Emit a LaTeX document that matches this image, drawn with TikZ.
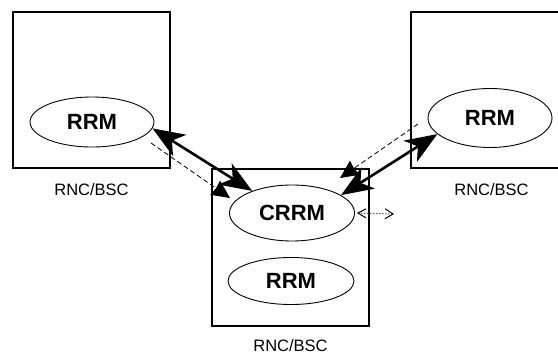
\documentclass[tikz,border=0pt]{standalone}
\usepackage{fontspec}
\setmainfont{Liberation Sans}
\usetikzlibrary{positioning,shapes.geometric,arrows.meta}

\tikzset{
  unit/.style={draw, line width=1.4pt, minimum width=157pt, minimum height=156pt, inner sep=0pt},
  oval/.style={draw, ellipse, line width=0.9pt, inner sep=0pt, font=\fontsize{22}{26}\selectfont\bfseries},
  place/.style={inner sep=0pt, font=\fontsize{16.5}{20}\selectfont},
  link/.style={line width=2.6pt, {Stealth[length=32pt,width=25pt,inset=9pt]}-{Stealth[length=32pt,width=25pt,inset=9pt]}},
  signal/.style={dash pattern=on 5pt off 3pt, line width=0.8pt, -{Stealth[length=18pt,width=17pt,inset=1pt]}},
  probe/.style={dotted, line width=1pt, shorten <=2pt, {Straight Barb[length=8pt,width=9pt]}-{Straight Barb[length=8pt,width=10pt]}}
}

\begin{document}
\begin{tikzpicture}[x=1pt, y=-1pt]
        \useasboundingbox (0,0) rectangle (558,354);
        \clip (0,0) rectangle (558,354);

        \node[unit] (lbox) at (91.5,90) {};
        \node[unit] (rbox) at (489.5,90) {};
        \node[unit, minimum height=157pt] (cbox) at (290.5,247.5) {};

        \node[place, below=15pt of lbox] (llabel) {RNC/BSC};
        \node[place, below=15pt of rbox.south -| rbox.center, xshift=2pt] (rlabel) {RNC/BSC};
        \node[place, below=13pt of cbox] (clabel) {RNC/BSC};

        \node[oval, minimum width=124pt, minimum height=50pt] (lrrm) at (92,122) {RRM};
        \node[oval, minimum width=124pt, minimum height=59pt] (rrrm) at (490,118) {RRM};
        \node[oval, minimum width=125pt, minimum height=56pt] (crrm) at (292,213) {CRRM};
        \node[oval, minimum width=126pt, minimum height=47pt] (crm) at (291,281) {RRM};

        \coordinate (lfrom) at (151,143);
        \coordinate (lto) at (230,198);
        \coordinate (rfrom) at (418,124);
        \coordinate (rto) at (340,178);
        \coordinate (probeend) at (394,214);

        \draw[link] (lrrm.-6) -- (crrm.151);
        \draw[link] (rrrm.197) -- (crrm.20);
        \draw[signal] (lfrom) -- (lto);
        \draw[signal] (rfrom) -- (rto);
        \draw[probe] (crrm.east) -- (probeend);
\end{tikzpicture}
\end{document}
